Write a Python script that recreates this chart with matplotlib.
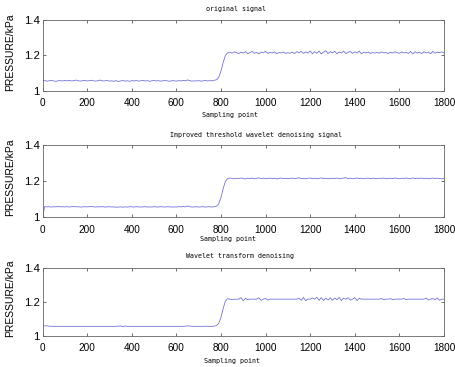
import numpy as np
import matplotlib
matplotlib.use("Agg")
import matplotlib.pyplot as plt

step = 10

original = [
    1.060, 1.057, 1.054, 1.056, 1.058, 1.055, 1.053, 1.056, 1.057, 1.055,
    1.058, 1.056, 1.059, 1.055, 1.057, 1.060, 1.056, 1.054, 1.057, 1.058,
    1.055, 1.057, 1.059, 1.056, 1.054, 1.057, 1.060, 1.055, 1.056, 1.058,
    1.054, 1.056, 1.053, 1.057, 1.052, 1.055, 1.058, 1.054, 1.056, 1.053,
    1.057, 1.055, 1.058, 1.054, 1.056, 1.059, 1.055, 1.057, 1.053, 1.056,
    1.058, 1.055, 1.057, 1.054, 1.056, 1.059, 1.055, 1.053, 1.057, 1.056,
    1.054, 1.057, 1.055, 1.058, 1.056, 1.061, 1.057, 1.054, 1.056, 1.055,
    1.057, 1.054, 1.056, 1.058, 1.055, 1.057, 1.056, 1.059, 1.062, 1.075,
    1.110, 1.160, 1.200, 1.214, 1.218, 1.212, 1.220, 1.215, 1.210, 1.218,
    1.213, 1.221, 1.209, 1.216, 1.222, 1.212, 1.217, 1.208, 1.219, 1.214,
    1.222, 1.211, 1.217, 1.213, 1.220, 1.209, 1.216, 1.214, 1.219, 1.211,
    1.215, 1.212, 1.218, 1.210, 1.221, 1.214, 1.223, 1.211, 1.219, 1.213,
    1.225, 1.209, 1.220, 1.212, 1.224, 1.208, 1.218, 1.226, 1.210, 1.221,
    1.214, 1.223, 1.209, 1.219, 1.213, 1.224, 1.210, 1.217, 1.222, 1.211,
    1.220, 1.213, 1.224, 1.209, 1.218, 1.214, 1.219, 1.211, 1.216, 1.213,
    1.217, 1.212, 1.219, 1.214, 1.216, 1.210, 1.218, 1.213, 1.220, 1.215,
    1.212, 1.219, 1.214, 1.217, 1.211, 1.222, 1.208, 1.220, 1.213, 1.218,
    1.210, 1.221, 1.214, 1.219, 1.209, 1.223, 1.212, 1.218, 1.215, 1.220,
    1.214,
]

improved = [
    1.000, 1.059, 1.057, 1.058, 1.056, 1.058, 1.057, 1.059, 1.057, 1.058,
    1.057, 1.058, 1.056, 1.058, 1.059, 1.057, 1.058, 1.056, 1.057, 1.058,
    1.057, 1.058, 1.059, 1.057, 1.056, 1.058, 1.057, 1.058, 1.056, 1.057,
    1.058, 1.056, 1.057, 1.055, 1.056, 1.057, 1.055, 1.057, 1.056, 1.058,
    1.057, 1.056, 1.058, 1.057, 1.056, 1.057, 1.058, 1.056, 1.057, 1.056,
    1.058, 1.057, 1.056, 1.058, 1.057, 1.056, 1.058, 1.057, 1.056, 1.057,
    1.056, 1.058, 1.057, 1.059, 1.057, 1.062, 1.058, 1.056, 1.057, 1.058,
    1.056, 1.057, 1.058, 1.056, 1.057, 1.058, 1.056, 1.058, 1.061, 1.073,
    1.108, 1.158, 1.198, 1.213, 1.216, 1.214, 1.212, 1.215, 1.213, 1.216,
    1.214, 1.211, 1.215, 1.213, 1.216, 1.212, 1.214, 1.217, 1.213, 1.215,
    1.214, 1.212, 1.216, 1.213, 1.215, 1.211, 1.214, 1.216, 1.213, 1.215,
    1.212, 1.214, 1.216, 1.213, 1.215, 1.217, 1.213, 1.214, 1.212, 1.215,
    1.216, 1.213, 1.215, 1.212, 1.214, 1.217, 1.213, 1.215, 1.212, 1.214,
    1.215, 1.213, 1.216, 1.212, 1.214, 1.216, 1.218, 1.213, 1.215, 1.212,
    1.214, 1.216, 1.213, 1.215, 1.212, 1.214, 1.216, 1.213, 1.215, 1.214,
    1.213, 1.215, 1.214, 1.216, 1.212, 1.214, 1.215, 1.213, 1.216, 1.214,
    1.212, 1.215, 1.213, 1.216, 1.214, 1.212, 1.217, 1.213, 1.215, 1.214,
    1.216, 1.213, 1.215, 1.212, 1.214, 1.216, 1.213, 1.215, 1.214, 1.212,
    1.214,
]

wavelet = [
    1.056, 1.058, 1.058, 1.056, 1.055, 1.055, 1.055, 1.055, 1.055, 1.055,
    1.055, 1.055, 1.055, 1.055, 1.055, 1.055, 1.055, 1.055, 1.055, 1.055,
    1.055, 1.055, 1.055, 1.055, 1.055, 1.055, 1.055, 1.055, 1.055, 1.055,
    1.055, 1.055, 1.055, 1.055, 1.056, 1.058, 1.053, 1.057, 1.055, 1.055,
    1.055, 1.055, 1.055, 1.055, 1.055, 1.055, 1.055, 1.055, 1.055, 1.055,
    1.055, 1.055, 1.055, 1.055, 1.055, 1.055, 1.055, 1.055, 1.055, 1.055,
    1.055, 1.055, 1.055, 1.055, 1.056, 1.058, 1.057, 1.055, 1.055, 1.055,
    1.055, 1.055, 1.055, 1.056, 1.055, 1.055, 1.055, 1.056, 1.060, 1.072,
    1.108, 1.160, 1.205, 1.218, 1.215, 1.212, 1.214, 1.215, 1.215, 1.224,
    1.205, 1.220, 1.212, 1.215, 1.215, 1.215, 1.215, 1.223, 1.208, 1.215,
    1.220, 1.209, 1.215, 1.215, 1.215, 1.215, 1.215, 1.215, 1.215, 1.215,
    1.215, 1.215, 1.215, 1.215, 1.215, 1.221, 1.208, 1.225, 1.206, 1.215,
    1.215, 1.222, 1.215, 1.226, 1.208, 1.224, 1.207, 1.221, 1.210, 1.223,
    1.208, 1.222, 1.212, 1.225, 1.207, 1.221, 1.215, 1.223, 1.209, 1.215,
    1.224, 1.207, 1.220, 1.215, 1.215, 1.215, 1.215, 1.215, 1.215, 1.215,
    1.215, 1.215, 1.219, 1.211, 1.215, 1.215, 1.218, 1.212, 1.215, 1.215,
    1.215, 1.215, 1.219, 1.212, 1.215, 1.215, 1.215, 1.215, 1.215, 1.215,
    1.215, 1.215, 1.221, 1.210, 1.215, 1.218, 1.212, 1.222, 1.208, 1.215,
    1.215,
]

titles = ["original signal",
          "Improved threshold wavelet denoising signal",
          "Wavelet transform denoising"]
xticks = [0, 200, 400, 600, 800, 1000, 1200, 1400, 1600, 1800]
yticks = [1, 1.2, 1.4]
yticklabels = ["1", "1.2", "1.4"]

W, H = 455, 367
fig = plt.figure(figsize=(W / 100, H / 100), dpi=100)

# axes boxes in pixels: (left, top, right, bottom)
boxes = [(42.5, 20, 444, 90.7), (42.5, 144.7, 444, 217.2), (42.5, 267.7, 444, 335.7)]
title_pos = [(235.5, 9.5), (255.5, 134.7), (240, 255.7)]
xlab_pos = [(230, 115), (228.5, 239), (232, 361.5)]

mono = "DejaVu Sans Mono"
for i, y in enumerate([original, improved, wavelet]):
    l, t, r, b = boxes[i]
    ax = fig.add_axes([l / W, 1 - b / H, (r - l) / W, (b - t) / H])
    x = np.arange(len(y)) * step
    ax.plot(x, y, color="#7474d6", lw=0.6)
    ax.set_xlim(0, 1800)
    ax.set_ylim(1, 1.4)
    ax.set_xticks(xticks)
    ax.set_yticks(yticks)
    ax.set_yticklabels(yticklabels)
    ax.tick_params(direction="in", length=2, width=0.5, top=True, right=True,
                   colors="#333333", labelcolor="black")
    ax.tick_params(axis="x", pad=5.5, labelsize=7.2)
    ax.tick_params(axis="y", pad=2, labelsize=8.2)
    for s in ax.spines.values():
        s.set_color("#666666")
        s.set_linewidth(0.6)
    ax.set_ylabel("PRESSURE/kPa", fontsize=7.5, fontfamily="Liberation Sans")
    ax.yaxis.set_label_coords(-0.068, 0.55)
    for lab in ax.get_xticklabels() + ax.get_yticklabels():
        lab.set_fontfamily("Liberation Sans")
    tx, ty = title_pos[i]
    fig.text(tx / W, 1 - ty / H, titles[i], fontsize=4.8, family=mono,
             ha="center", va="center")
    lx, ly = xlab_pos[i]
    fig.text(lx / W, 1 - ly / H, "Sampling point", fontsize=4.8, family=mono,
             ha="center", va="center")

fig.savefig("out.png", dpi=100)
